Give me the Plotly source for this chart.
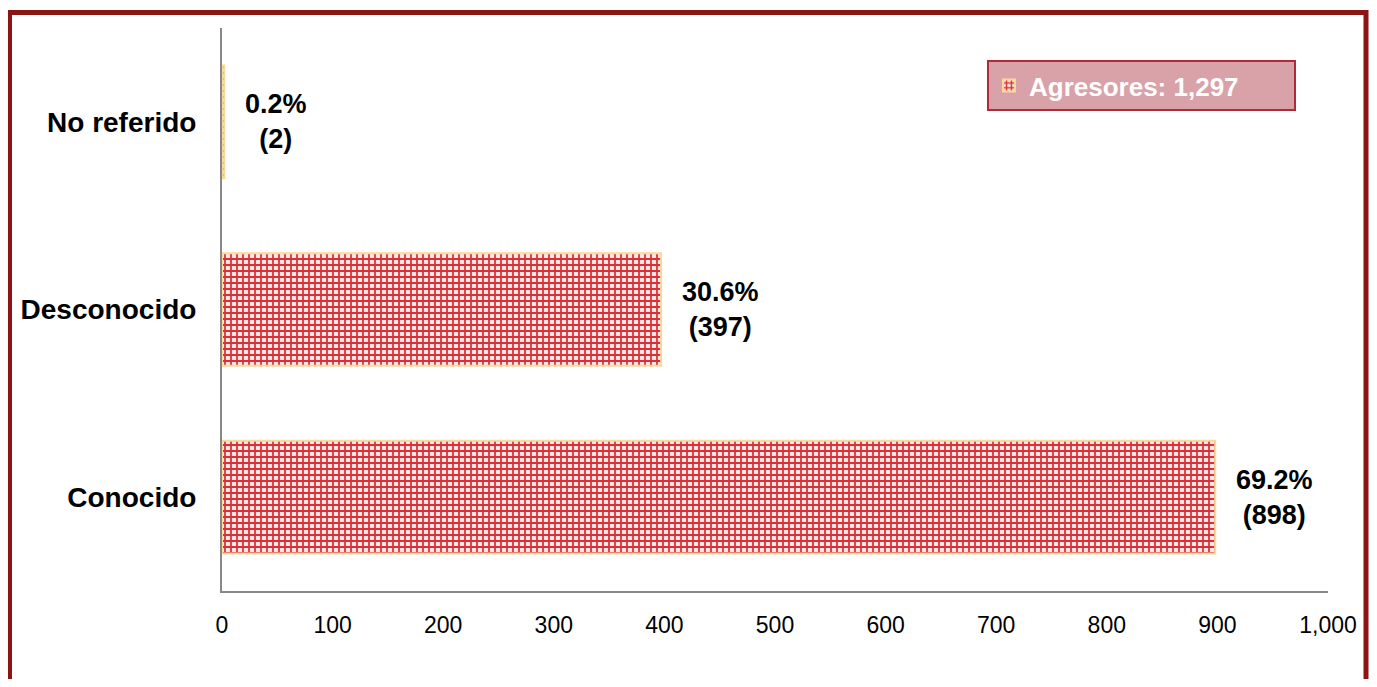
import plotly.graph_objects as go

categories = ["Conocido", "Desconocido", "No referido"]
values = [898, 397, 2]
percents = ["69.2%", "30.6%", "0.2%"]
series_name = "Agresores: 1,297"
x_ticks = [0, 100, 200, 300, 400, 500, 600, 700, 800, 900, 1000]

OFF = 8  # default page body margin
W, H = 1377 - 2 * OFF, 687 - 2 * OFF
ML, MR, MT, MB = 222 - OFF, 1377 - OFF - 1328, 28 - OFF, 687 - OFF - 591
MR = (W + OFF) - 1328
MB = (H + OFF) - 591
PW = W - ML - MR
PH = H - MT - MB

def px_x(p):
    return (p - OFF - ML) / PW

def px_y(p):
    return (H - MB - (p - OFF)) / PH

FONT = "Arial, Liberation Sans"

fig = go.Figure()
fig.add_trace(go.Bar(
    x=values, y=categories, orientation="h", name=series_name,
    marker=dict(
        color="#FFDCDC",
        line=dict(color="#F7D99A", width=2),
        pattern=dict(shape="+", fgcolor="#D83036", bgcolor="#FFE6E6",
                     size=6, solidity=0.5, fillmode="replace"),
    ),
    showlegend=True,
))

annotations = []
for c, v, p in zip(categories, values, percents):
    annotations.append(dict(
        x=v, y=c, xref="x", yref="y", text=f"{p}<br>({v})",
        showarrow=False, xanchor="left", yanchor="middle", align="center",
        xshift=19, font=dict(family=FONT, size=27, color="#000000", weight="bold"),
    ))

shapes = [dict(
    type="rect", xref="paper", yref="paper",
    x0=px_x(9.5), x1=px_x(OFF + W - 3), y0=px_y(720), y1=px_y(12.5),
    line=dict(color="#8B1515", width=5), fillcolor="rgba(0,0,0,0)", layer="below",
)]

fig.update_layout(
    width=W, height=H,
    margin=dict(l=ML, r=MR, t=MT, b=MB, pad=0),
    paper_bgcolor="white", plot_bgcolor="white",
    bargap=0.4,
    font=dict(family=FONT, color="#000000"),
    xaxis=dict(
        range=[0, 1000], tickvals=x_ticks, tickformat=",", showgrid=False, zeroline=False,
        showline=True, linecolor="#888888", linewidth=2, ticks="",
        tickfont=dict(size=23, color="#000000"), ticklabelstandoff=12,
    ),
    yaxis=dict(
        categoryorder="array", categoryarray=categories, showgrid=False, zeroline=False,
        showline=True, linecolor="#888888", linewidth=2, ticks="",
        tickfont=dict(size=28, color="#000000", weight="bold"), ticklabelstandoff=18,
    ),
    legend=dict(
        x=px_x(987), y=px_y(60), xanchor="left", yanchor="top",
        bgcolor="#D9A1A8", bordercolor="#B02A3A", borderwidth=2,
        font=dict(family=FONT, size=26, color="white", weight="bold"),
        itemwidth=30, orientation="h", entrywidth=260,
    ),
    annotations=annotations,
    shapes=shapes,
)

fig.write_html("out.html")
